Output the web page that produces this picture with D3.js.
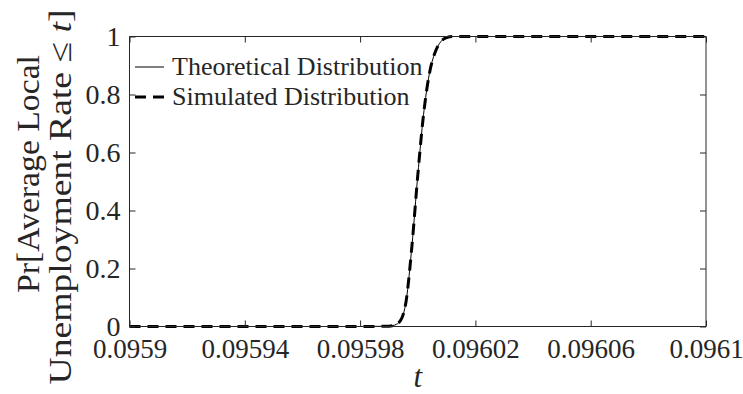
<!DOCTYPE html>
<html>
<head>
<meta charset="utf-8">
<script src="https://cdn.jsdelivr.net/npm/d3@7"></script>
<style>
  html, body { margin: 0; padding: 0; background: #fff; }
  svg { display: block; }
  text { font-family: "Liberation Serif", "Times New Roman", serif; fill: #262626; }
</style>
</head>
<body>
<svg id="chart" width="743" height="394"></svg>
<script>
// Evaluation points t and cumulative probabilities
const tValues = [0.0959, 0.09597, 0.09598, 0.09599, 0.095992, 0.095994, 0.095996, 0.095998,
                 0.096, 0.096002, 0.096004, 0.096006, 0.096008, 0.09601, 0.096012, 0.09602, 0.0961];
const theoretical = [0, 0, 0, 0.001, 0.005, 0.02, 0.09, 0.28,
                     0.52, 0.73, 0.87, 0.945, 0.982, 0.996, 1, 1, 1];
const simulated = [0, 0, 0, 0.001, 0.005, 0.02, 0.09, 0.28,
                   0.52, 0.73, 0.87, 0.945, 0.982, 0.996, 1, 1, 1];
const xTicks = [0.0959, 0.09594, 0.09598, 0.09602, 0.09606, 0.0961];
const xTickLabels = ["0.0959", "0.09594", "0.09598", "0.09602", "0.09606", "0.0961"];
const yTicks = [0, 0.2, 0.4, 0.6, 0.8, 1];
const yTickLabels = ["0", "0.2", "0.4", "0.6", "0.8", "1"];
const legendLabels = ["Theoretical Distribution", "Simulated Distribution"];

const svg = d3.select("#chart");
const margin = { left: 129.5, right: 37, top: 36.5, bottom: 67.5 };
const W = 743, H = 394;
const x = d3.scaleLinear().domain([0.0959, 0.0961]).range([margin.left, W - margin.right]);
const y = d3.scaleLinear().domain([0, 1]).range([H - margin.bottom, margin.top]);

const axisColor = "#262626";
const tickLen = 6;
const fsX = 27;
const fsY = 28;
const dash = "11,7";

// Curves
const line = d3.line().x(d => x(d[0])).y(d => y(d[1])).curve(d3.curveMonotoneX);
const theoPts = tValues.map((t, i) => [t, theoretical[i]]);
const simPts = tValues.map((t, i) => [t, simulated[i]]);

svg.append("path").attr("d", line(theoPts))
  .attr("fill", "none").attr("stroke", "#000").attr("stroke-width", 1);
svg.append("path").attr("d", line(simPts))
  .attr("fill", "none").attr("stroke", "#000").attr("stroke-width", 3)
  .attr("stroke-dasharray", dash);

// Axes box with mirrored inward ticks
const bottomAxis = d3.axisBottom(x).tickValues(xTicks).tickSize(-tickLen).tickFormat((d, i) => xTickLabels[i]).tickPadding(12);
const topAxis = d3.axisTop(x).tickValues(xTicks).tickSize(-tickLen).tickFormat("");
const leftAxis = d3.axisLeft(y).tickValues(yTicks).tickSize(-tickLen).tickFormat((d, i) => yTickLabels[i]).tickPadding(9);
const rightAxis = d3.axisRight(y).tickValues(yTicks).tickSize(-tickLen).tickFormat("");

function styleAxis(g, size) {
  g.select(".domain").attr("stroke", axisColor).attr("stroke-width", 1);
  g.selectAll(".tick line").attr("stroke", axisColor).attr("stroke-width", 1);
  g.selectAll(".tick text").style("font-family", "'Liberation Serif', serif").style("font-size", size + "px").attr("fill", axisColor);
}

svg.append("g").attr("transform", `translate(0,${H - margin.bottom})`).call(bottomAxis).call(styleAxis, fsX)
  .call(g => g.select(".domain").attr("d", `M${margin.left},0H${W - margin.right}`));
svg.append("g").attr("transform", `translate(0,${margin.top})`).call(topAxis).call(styleAxis, fsX)
  .call(g => g.select(".domain").attr("d", `M${margin.left},0H${W - margin.right}`));
svg.append("g").attr("transform", `translate(${margin.left},0)`).call(leftAxis).call(styleAxis, fsY)
  .call(g => g.select(".domain").attr("d", `M0,${margin.top}V${H - margin.bottom}`));
svg.append("g").attr("transform", `translate(${W - margin.right},0)`).call(rightAxis).call(styleAxis, fsY)
  .call(g => g.select(".domain").attr("d", `M0,${margin.top}V${H - margin.bottom}`));

// X axis label
svg.append("text").attr("x", x(0.096)).attr("y", 387)
  .attr("text-anchor", "middle").style("font-size", "31px").style("font-style", "italic").text("t");

// Y axis label: two rotated lines, each stretched to its target length
function fitLine(sel, cx, baseX, targetLen) {
  const w = sel.node().getComputedTextLength();
  const k = targetLen / w;
  sel.attr("transform", `translate(${baseX},${cx}) rotate(-90) scale(${k},1)`);
}
const l1 = svg.append("text").attr("text-anchor", "middle").style("font-size", "32px").text("Pr[Average Local");
fitLine(l1, 174, 39, 238);
const l2 = svg.append("text").attr("text-anchor", "middle").style("font-size", "32px");
l2.append("tspan").text("Unemployment Rate ≤ ");
l2.append("tspan").style("font-style", "italic").text("t");
l2.append("tspan").text("]");
fitLine(l2, 197, 71, 375);

// Legend
const legY = [67, 97];
const leg = svg.append("g");
legendLabels.forEach((lab, i) => {
  const ly = legY[i];
  leg.append("line").attr("x1", 135).attr("x2", 164).attr("y1", ly).attr("y2", ly)
    .attr("stroke", "#000").attr("stroke-width", i === 0 ? 1 : 3)
    .attr("stroke-dasharray", i === 0 ? null : dash);
  leg.append("text").attr("x", 172).attr("y", ly).attr("dy", "0.3em")
    .style("font-size", "26px").text(lab);
});
</script>
</body>
</html>
